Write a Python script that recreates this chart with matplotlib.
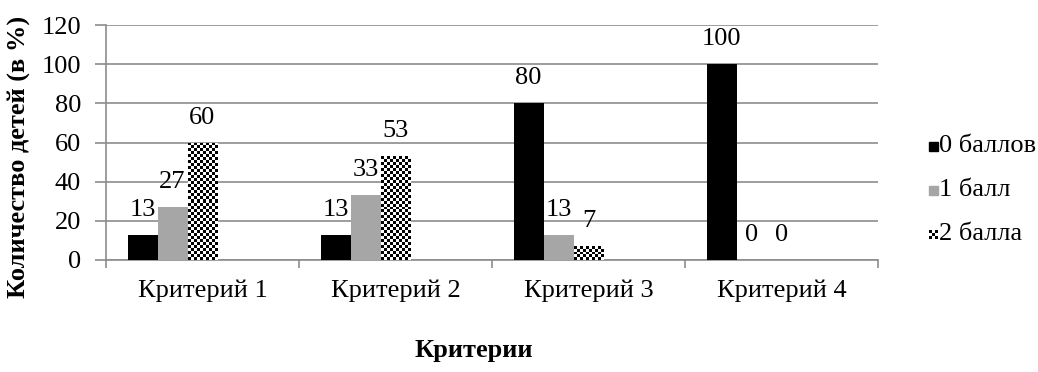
import numpy as np
import matplotlib
matplotlib.use("Agg")
import matplotlib.pyplot as plt
from matplotlib.patches import Rectangle

categories = ["Критерий 1", "Критерий 2", "Критерий 3", "Критерий 4"]
series_names = ["0 баллов", "1 балл", "2 балла"]
score0 = [13, 13, 80, 100]
score1 = [27, 33, 13, 0]
score2 = [60, 53, 7, 0]
y_ticks = [0, 20, 40, 60, 80, 100, 120]

plt.rcParams['font.family'] = ['Liberation Serif', 'DejaVu Serif']
FS = 19
GRID = '#8c8c8c'

W, H, DPI = 1038, 372, 100
fig = plt.figure(figsize=(W / DPI, H / DPI), dpi=DPI)
L, R, T, B = 106, 878, 25, 260
ax = fig.add_axes([L / W, 1 - B / H, (R - L) / W, (B - T) / H])

ax.set_xlim(0, len(categories))
ax.set_ylim(0, 120)

bw = 30 / ((R - L) / len(categories))   # bar width in category units
offsets = [-2 * bw, -bw, 0.0]
centers = np.arange(len(categories)) + 0.5
px_per_unit_y = (B - T) / 120.0

cell = 3  # checker cell size in px

for si, (vals, off) in enumerate(zip([score0, score1, score2], offsets)):
    xs = centers + off
    if si == 0:
        bars = ax.bar(xs, vals, width=bw, color='black', zorder=3)
    elif si == 1:
        bars = ax.bar(xs, vals, width=bw, color='#a6a6a6', zorder=3)
    else:
        bars = ax.bar(xs, vals, width=bw, color='white', zorder=3)
        for b, v in zip(bars, vals):
            if v <= 0:
                continue
            hpx = v * px_per_unit_y
            ny = max(1, int(round(hpx / cell)))
            nx = 10
            ii, jj = np.indices((ny, nx))
            board = ((ii + jj) % 2).astype(float)
            x0 = b.get_x()
            im = ax.imshow(board, extent=(x0, x0 + bw, 0, v), cmap='gray',
                           interpolation='nearest', aspect='auto',
                           zorder=4, origin='lower')
            im.set_clip_path(b)
    for x, v in zip(xs, vals):
        ax.annotate(f"{v}", (x, v), xytext=(0, 18), textcoords='offset points',
                    ha='center', va='center', fontsize=FS, zorder=5)

ax.set_xlim(0, len(categories))
ax.set_ylim(0, 120)

# axes styling
ax.set_yticks(y_ticks)
ax.set_yticklabels([str(t) for t in y_ticks], fontsize=FS)
ax.yaxis.grid(True, color=GRID, linewidth=1.2, zorder=0)
ax.set_axisbelow(True)
ax.set_xticks(np.arange(len(categories) + 1))
ax.set_xticklabels([])
ax.set_xticks(centers, minor=True)
ax.set_xticklabels(categories, minor=True, fontsize=FS)
ax.tick_params(axis='x', which='minor', length=0, pad=14)
ax.tick_params(axis='x', which='major', length=6, color=GRID, width=1.2)
ax.tick_params(axis='y', length=8, color=GRID, width=1.2, pad=10)
for s in ['top', 'right']:
    ax.spines[s].set_visible(False)
for s in ['left', 'bottom']:
    ax.spines[s].set_color(GRID)
    ax.spines[s].set_linewidth(1.2)

fig.text(19 / W, 1 - 157 / H, "Количество детей (в %)", rotation=90,
         ha='center', va='center', fontsize=FS, fontweight='bold')
fig.text(474 / W, 1 - 350 / H, "Критерии", ha='center', va='center',
         fontsize=FS, fontweight='bold')

# legend
leg_y = [146, 190, 234]
mk = 9
for i, (name, y) in enumerate(zip(series_names, leg_y)):
    x0 = 929
    if i == 0:
        fig.add_artist(Rectangle((x0 / W, 1 - (y + mk / 2) / H), mk / W, mk / H,
                                 transform=fig.transFigure, color='black'))
    elif i == 1:
        fig.add_artist(Rectangle((x0 / W, 1 - (y + mk / 2) / H), mk / W, mk / H,
                                 transform=fig.transFigure, color='#a6a6a6'))
    else:
        c = mk / 3
        for a in range(3):
            for bb in range(3):
                if (a + bb) % 2 == 0:
                    fig.add_artist(Rectangle(((x0 + a * c) / W, 1 - (y + mk / 2 - bb * c) / H),
                                             c / W, c / H, transform=fig.transFigure,
                                             color='black', lw=0))
    fig.text((x0 + mk + 1) / W, 1 - y / H, name, ha='left', va='center', fontsize=FS)

fig.savefig("out.png", dpi=DPI)
